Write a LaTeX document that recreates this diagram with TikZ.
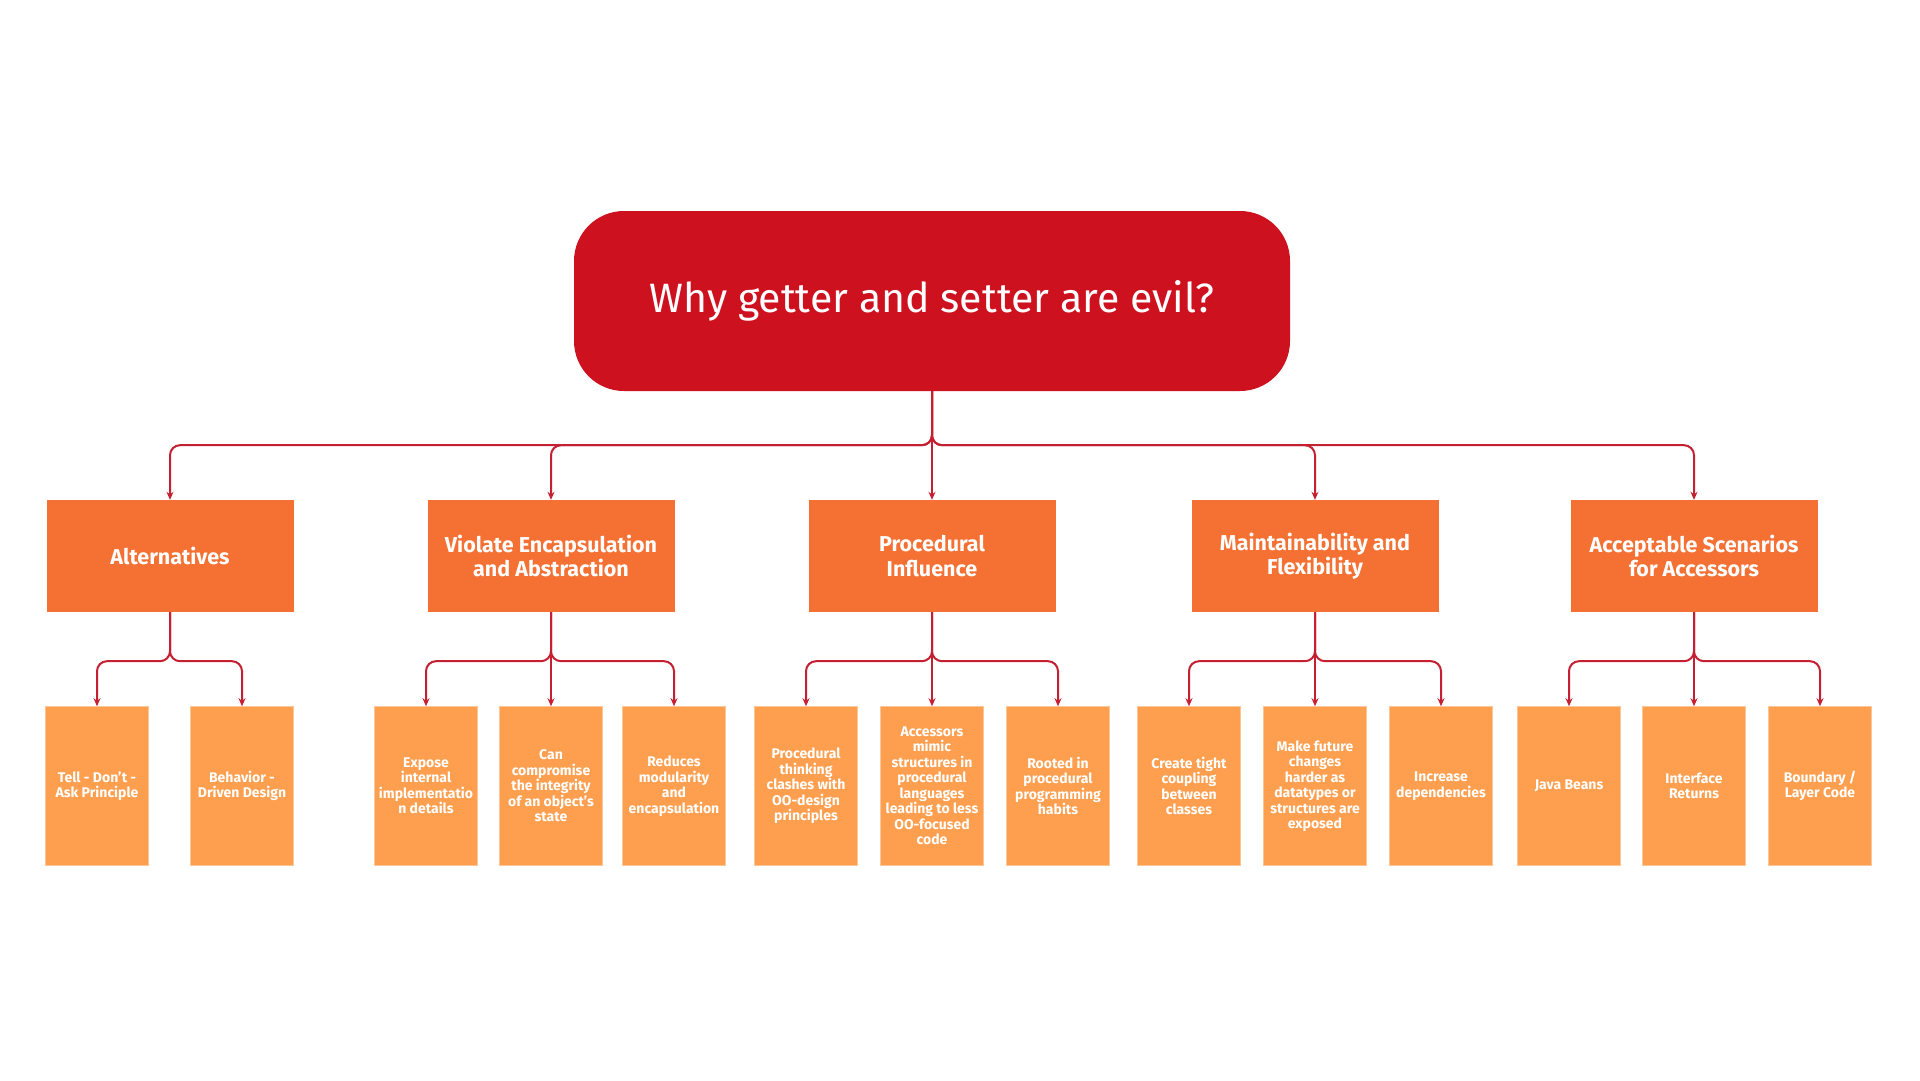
\documentclass[tikz,border=0pt]{standalone}
\usepackage{fontspec}
\setmainfont{Fira Sans}
\usetikzlibrary{arrows.meta}
\definecolor{rootred}{HTML}{CE111F}
\definecolor{lvone}{HTML}{F47033}
\definecolor{leafor}{HTML}{FE9F50}
\definecolor{linkc}{HTML}{C42032}
\tikzset{
  rootbox/.style={fill=rootred, rounded corners=50pt, minimum width=716pt, minimum height=180pt,
    text=white, font=\fontsize{41}{46}\selectfont, inner sep=0pt},
  catbox/.style={fill=lvone, minimum width=247pt, minimum height=112pt, text=white, align=center,
    font=\bfseries\fontsize{21.5}{24.5}\selectfont, inner sep=0pt},
  leafbox/.style={fill=leafor, draw=leafor!60!white, line width=0.6pt, minimum width=103pt, minimum height=159pt, text=white, align=center,
    font=\bfseries\fontsize{14}{15.5}\selectfont, inner sep=0pt},
  conn/.style={draw=linkc, line width=2pt, rounded corners=10pt, -{Stealth[length=8pt,width=7pt]}}
}
\begin{document}
\begin{tikzpicture}[x=1pt,y=-1pt]
\fill[white] (0,0) rectangle (1920,1080);
\useasboundingbox (0,0) rectangle (1920,1080);

\node[rootbox] (root) at (932,301) {Why getter and setter are evil?};

\node[catbox] (c1) at (170,556) {Alternatives};
\node[catbox] (c2) at (551,556) {Violate Encapsulation\\and Abstraction};
\node[catbox] (c3) at (932,556) {Procedural\\Influence};
\node[catbox] (c4) at (1315,556) {Maintainability and\\Flexibility};
\node[catbox] (c5) at (1694,556) {Acceptable Scenarios\\for Accessors};

\node[leafbox] (l11) at (97,786) {Tell - Don't -\\Ask Principle};
\node[leafbox] (l12) at (242,786) {Behavior -\\Driven Design};

\node[leafbox] (l21) at (426,786) {Expose\\internal\\implementatio\\n details};
\node[leafbox] (l22) at (551,786) {Can\\compromise\\the integrity\\of an object's\\state};
\node[leafbox] (l23) at (674,786) {Reduces\\modularity\\and\\encapsulation};

\node[leafbox] (l31) at (806,786) {Procedural\\thinking\\clashes with\\OO-design\\principles};
\node[leafbox] (l32) at (932,786) {Accessors\\mimic\\structures in\\procedural\\languages\\leading to less\\OO-focused\\code};
\node[leafbox] (l33) at (1058,786) {Rooted in\\procedural\\programming\\habits};

\node[leafbox] (l41) at (1189,786) {Create tight\\coupling\\between\\classes};
\node[leafbox] (l42) at (1315,786) {Make future\\changes\\harder as\\datatypes or\\structures are\\exposed};
\node[leafbox] (l43) at (1441,786) {Increase\\dependencies};

\node[leafbox] (l51) at (1569,786) {Java Beans};
\node[leafbox] (l52) at (1694,786) {Interface\\Returns};
\node[leafbox] (l53) at (1820,786) {Boundary /\\Layer Code};

% root to categories
\foreach \c in {c1,c2,c4,c5}
  \draw[conn] (root.south) -- ++(0,54) -| (\c.north);
\draw[conn] (root.south) -- (c3.north);

% categories to leaves
\foreach \p/\a/\b in {c1/l11/l12, c4/l41/l43, c2/l21/l23, c3/l31/l33, c5/l51/l53}{
  \draw[conn] (\p.south) -- ++(0,49) -| (\a.north);
  \draw[conn] (\p.south) -- ++(0,49) -| (\b.north);
}
\draw[conn] (c2.south) -- (l22.north);
\draw[conn] (c3.south) -- (l32.north);
\draw[conn] (c4.south) -- (l42.north);
\draw[conn] (c5.south) -- (l52.north);
\end{tikzpicture}
\end{document}
